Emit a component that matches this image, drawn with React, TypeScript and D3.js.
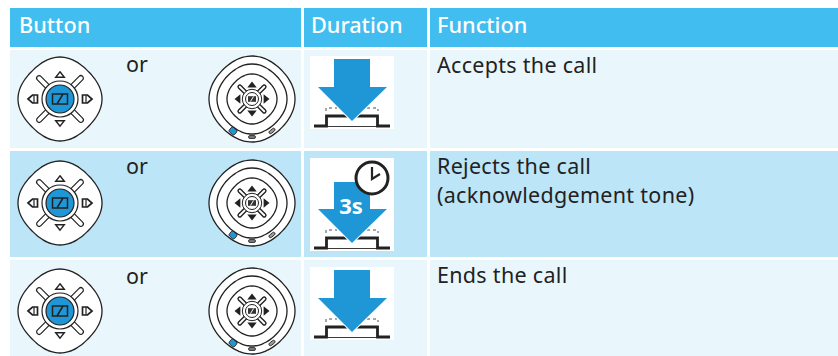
import React from "react";
import * as d3 from "d3";

const headers = ["Button", "Duration", "Function"];
const headerInsets = [9, 7, 7];
const columnEdges = [10, 301, 304, 427, 430, 838];
const rowTops = [50, 151, 260];
const rowBottoms = [148, 257, 356];
const iconCentres = [99, 203, 311];
const orBaselines = [72, 174, 284];
const functionBaselines = [73, 174, 283];
const functionLines = [["Accepts the call"], ["Rejects the call", "(acknowledgement tone)"], ["Ends the call"]];
const holdLabels = ["", "3s", ""];
const holdTops = [56, 158, 267];
const holdHeights = [73, 93, 73];
const rowFills = ["#e9f7fd", "#bde5f8", "#e9f7fd"];
const FONT = "'Noto Sans','Open Sans',sans-serif";
const INK = "#222";
const BLUE = "#1f97d6";

const blob = (r: number, k = 0.9) => {
  const pts: [number, number][] = d3.range(0, 360, 6).map((deg) => {
    const a = (deg * Math.PI) / 180;
    const rr = r * (k + (1 - k) * Math.pow(Math.cos(2 * a), 2));
    return [rr * Math.cos(a), rr * Math.sin(a)];
  });
  return d3.line().curve(d3.curveCardinalClosed)(pts) || "";
};

const Tri = ({ a, d, s, fill }: { a: number; d: number; s: number; fill: string }) => (
  <g transform={`rotate(${a}) translate(0,${-d})`}>
    <path d={`M0,${-s}L${s * 1.35},${s * 0.7}H${-s * 1.35}Z`} fill={fill} stroke={INK} strokeWidth={1.4} />
  </g>
);

const House = ({ a, d }: { a: number; d: number }) => (
  <g transform={`rotate(${a}) translate(0,${-d})`}>
    <path d="M0,-5L4,-0.5V4.5H-4V-0.5Z" fill="#fff" stroke={INK} strokeWidth={1.7} />
    <path d="M-4,1H4" stroke={INK} strokeWidth={1.2} />
  </g>
);

const Dpad = ({ x, y }: { x: number; y: number }) => (
  <g transform={`translate(${x},${y})`}>
    <path d={blob(42, 0.94)} fill="#fff" stroke={INK} strokeWidth={1.3} />
    {[45, 135, 225, 315].map((a) => (
      <g key={a} transform={`rotate(${a})`}>
        <rect x={-2.5} y={-32} width={5} height={18} rx={2.5} fill="#fff" stroke={INK} strokeWidth={1.2} />
      </g>
    ))}
    <circle r={18} fill="#fff" stroke={INK} strokeWidth={1.2} />
    <circle r={14} fill={BLUE} stroke={INK} strokeWidth={1.2} />
    <rect x={-7.5} y={-5} width={15} height={10} fill="none" stroke={INK} strokeWidth={1.5} />
    <path d="M-3,5L3,-5" stroke={INK} strokeWidth={1.5} />
    <Tri a={0} d={24} s={3.2} fill="#fff" />
    <Tri a={180} d={24} s={3.2} fill="#fff" />
    <House a={90} d={27} />
    <House a={270} d={27} />
  </g>
);

const Speaker = ({ x, y }: { x: number; y: number }) => (
  <g transform={`translate(${x},${y})`}>
    <path d={blob(43, 0.96)} fill="#fff" stroke={INK} strokeWidth={1.3} />
    <path d={blob(35, 0.96)} fill="none" stroke={INK} strokeWidth={1.3} />
    <path d={blob(25, 0.96)} fill="none" stroke={INK} strokeWidth={1.3} />
    {[45, 135, 225, 315].map((a) => (
      <g key={a} transform={`rotate(${a})`}>
        <rect x={-1.7} y={-19} width={3.4} height={11} rx={1.7} fill="#fff" stroke={INK} strokeWidth={1.4} />
      </g>
    ))}
    <circle r={9.7} fill="#fff" stroke={INK} strokeWidth={1} />
    <circle r={6.5} fill="#fff" stroke={INK} strokeWidth={1} />
    <rect x={-4} y={-2.8} width={8} height={5.6} fill="#333" />
    <path d="M-1.5,2.5L1.5,-2.5" stroke="#fff" strokeWidth={1} />
    <Tri a={0} d={14} s={2.4} fill={INK} />
    <Tri a={180} d={14} s={2.4} fill={INK} />
    <Tri a={90} d={14} s={2.4} fill={INK} />
    <Tri a={270} d={14} s={2.4} fill={INK} />
    <rect x={-22.5} y={29} width={7} height={6} rx={1.5} transform="rotate(40 -19 32)" fill={BLUE} stroke={INK} strokeWidth={0.8} />
    <rect x={-3.5} y={36.5} width={7} height={3} rx={1.5} fill="#777" stroke={INK} strokeWidth={0.8} />
    <rect x={16.5} y={30.5} width={7} height={3} rx={1.5} transform="rotate(-38 20 32)" fill="#999" stroke={INK} strokeWidth={0.8} />
  </g>
);

const Hold = ({ x, y, label, h }: { x: number; y: number; label: string; h: number }) => {
  const timed = label !== "";
  const off = h - 73;
  const base = 71 + off;
  const up = 60 + off;
  const dash = 52 + off;
  const top = timed ? 24 : 3;
  const shoulder = 31 + off;
  const tip = 65 + off;
  return (
    <g transform={`translate(${x},${y})`}>
      <rect width={84} height={h} fill="#fff" />
      <path d={`M4,${base - 1}H16.5V${up}H67.5V${base - 1}H80`} fill="none" stroke={INK} strokeWidth={2.8} />
      <path d={`M16,${base - 0.5}H68`} stroke={INK} strokeWidth={0.9} />
      <path d={`M16,${dash + 3}V${dash}H27M57,${dash}H68V${dash + 3}`} fill="none" stroke={INK} strokeWidth={0.8} strokeDasharray="3 3" />
      <path d={`M24,${top}H60V${shoulder}H77L42,${tip}L8,${shoulder}H24Z`} fill={BLUE} stroke="#fff" strokeWidth={2} paintOrder="stroke" />
      {timed && (
        <>
          <text x={41} y={56} textAnchor="middle" fill="#fff" fontFamily={FONT} fontWeight={700} fontSize={22}>{label}</text>
          <circle cx={62} cy={20} r={16} fill="#fff" stroke={INK} strokeWidth={3} />
          <path d="M62,9V21L70,16" fill="none" stroke={INK} strokeWidth={2.2} />
        </>
      )}
    </g>
  );
};

export default function App() {
  const cols = d3.pairs(columnEdges).filter((_, i) => i % 2 === 0);
  return (
    <svg width={838} height={356} style={{ position: "absolute", left: 0, top: 0, display: "block" }}>
      <rect width={838} height={356} fill="#fff" />
      {cols.map(([a, b], i) => (
        <g key={i}>
          <rect x={a} y={8} width={b - a} height={39} fill="#41bdf0" />
          <text x={a + headerInsets[i]} y={33} fill="#fff" fontFamily={FONT} fontSize={21.7} fontWeight={500}>{headers[i]}</text>
          {rowTops.map((t, r) => (
            <rect key={r} x={a} y={t} width={b - a} height={rowBottoms[r] - t} fill={rowFills[r]} />
          ))}
        </g>
      ))}
      {rowTops.map((t, r) => (
        <g key={r}>
          <Dpad x={60} y={iconCentres[r]} />
          <text x={126} y={orBaselines[r]} fill={INK} fontFamily={FONT} fontSize={21.5}>or</text>
          <Speaker x={252} y={iconCentres[r]} />
          <Hold x={310} y={holdTops[r]} label={holdLabels[r]} h={holdHeights[r]} />
          {functionLines[r].map((l, i) => (
            <text key={i} x={437} y={functionBaselines[r] + i * 29} fill={INK} fontFamily={FONT} fontSize={21.5} letterSpacing={0.3}>{l}</text>
          ))}
        </g>
      ))}
    </svg>
  );
}
